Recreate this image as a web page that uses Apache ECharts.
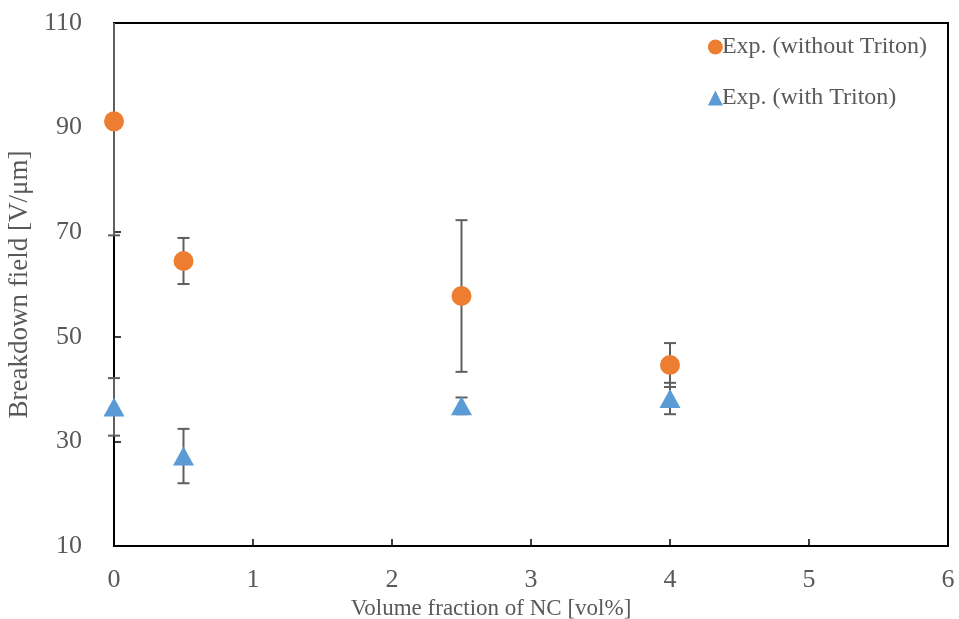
<!DOCTYPE html>
<html>
<head>
<meta charset="utf-8">
<script src="https://cdn.jsdelivr.net/npm/echarts@6/dist/echarts.min.js"></script>
<style>
  html, body { margin: 0; padding: 0; background: #fff; }
  #chart { width: 959px; height: 619px; }
</style>
</head>
<body>
<div id="chart"></div>
<script>
// Volume fraction of nanocellulose [vol%]
const fractions = [0, 0.5, 2.5, 4];

// Breakdown field, samples prepared without Triton
const withoutTriton = [91.2, 64.5, 57.8, 44.6];
const withoutTritonErr = [21.8, 4.4, 14.5, 4.2];

// Breakdown field, samples prepared with Triton
const withTriton = [36.6, 27.2, 36.8, 38.2];
const withTritonErr = [5.5, 5.2, 1.6, 3.0];

const xTicks = [0, 1, 2, 3, 4, 5, 6];
const yTicks = [10, 30, 50, 70, 90, 110];

const ORANGE = '#ED7D31';
const BLUE = '#5B9BD5';
const TEXT = '#595959';
const FONT = '"Liberation Serif", "Times New Roman", serif';

function errorData(values, errs) {
  return fractions.map((x, i) => [x, values[i] - errs[i], values[i] + errs[i]]);
}

// Vertical error bar with short caps; the part beyond the plot area is cut off
function renderErrorBar(params, api) {
  const cs = params.coordSys;
  const x = api.value(0);
  const lo = api.coord([x, api.value(1)]);
  const hi = api.coord([x, api.value(2)]);
  const top = cs.y, bottom = cs.y + cs.height;
  const yHi = Math.max(hi[1], top);
  const yLo = Math.min(lo[1], bottom);
  const half = 6;
  const style = { stroke: '#5f5f5f', lineWidth: 2 };
  const children = [
    { type: 'line', shape: { x1: lo[0], y1: yLo, x2: hi[0], y2: yHi }, style }
  ];
  if (hi[1] >= top) {
    children.push({ type: 'line', shape: { x1: hi[0] - half, y1: hi[1], x2: hi[0] + half, y2: hi[1] }, style });
  }
  if (lo[1] <= bottom) {
    children.push({ type: 'line', shape: { x1: lo[0] - half, y1: lo[1], x2: lo[0] + half, y2: lo[1] }, style });
  }
  return { type: 'group', children };
}

const chart = echarts.init(document.getElementById('chart'), null, { renderer: 'canvas' });

chart.setOption({
  animation: false,
  backgroundColor: '#ffffff',
  textStyle: { fontFamily: FONT },
  grid: {
    left: 114, right: 11, top: 23, bottom: 73,
    outerBoundsMode: 'none',
    containLabel: false,
    show: true, borderColor: '#000', borderWidth: 2, backgroundColor: 'transparent'
  },
  legend: {
    orient: 'vertical',
    right: 27,
    top: 30,
    itemGap: 27,
    itemWidth: 15,
    itemHeight: 15,
    textStyle: { fontFamily: FONT, fontSize: 24, color: TEXT, padding: [2, 0, 0, -6] },
    data: [
      { name: 'Exp. (without Triton)', icon: 'circle' },
      { name: 'Exp. (with Triton)', icon: 'triangle' }
    ]
  },
  xAxis: {
    type: 'value',
    min: xTicks[0],
    max: xTicks[xTicks.length - 1],
    interval: 1,
    name: 'Volume fraction of NC [vol%]',
    nameLocation: 'middle',
    nameGap: 46,
    nameTextStyle: { fontFamily: FONT, fontSize: 23, color: TEXT, padding: [0, 80, 0, 0] },
    axisLine: { lineStyle: { color: '#000', width: 2 } },
    axisTick: { inside: true, length: 7, lineStyle: { color: '#000', width: 1.5 } },
    axisLabel: { fontFamily: FONT, fontSize: 26, color: TEXT, margin: 21 },
    splitLine: { show: false }
  },
  yAxis: {
    type: 'value',
    min: yTicks[0],
    max: yTicks[yTicks.length - 1],
    interval: 20,
    name: 'Breakdown field [V/μm]',
    nameLocation: 'middle',
    nameGap: 73,
    nameTextStyle: { fontFamily: FONT, fontSize: 27, color: TEXT },
    axisLine: { lineStyle: { color: '#000', width: 2 } },
    axisTick: { inside: true, length: 7, lineStyle: { color: '#000', width: 1.5 } },
    axisLabel: { fontFamily: FONT, fontSize: 26, color: TEXT, margin: 32 },
    splitLine: { show: false }
  },
  series: [
    {
      name: 'err-without',
      type: 'custom',
      renderItem: renderErrorBar,
      data: errorData(withoutTriton, withoutTritonErr),
      clip: false,
      z: 5
    },
    {
      name: 'err-with',
      type: 'custom',
      renderItem: renderErrorBar,
      data: errorData(withTriton, withTritonErr),
      clip: false,
      z: 5
    },
    {
      name: 'Exp. (without Triton)',
      type: 'scatter',
      symbol: 'circle',
      symbolSize: 20,
      itemStyle: { color: ORANGE, opacity: 1 },
      data: fractions.map((x, i) => [x, withoutTriton[i]]),
      z: 6
    },
    {
      name: 'Exp. (with Triton)',
      type: 'scatter',
      symbol: 'triangle',
      symbolSize: [21, 19],
      itemStyle: { color: BLUE, opacity: 1 },
      data: fractions.map((x, i) => [x, withTriton[i]]),
      z: 6
    }
  ]
});
</script>
</body>
</html>
